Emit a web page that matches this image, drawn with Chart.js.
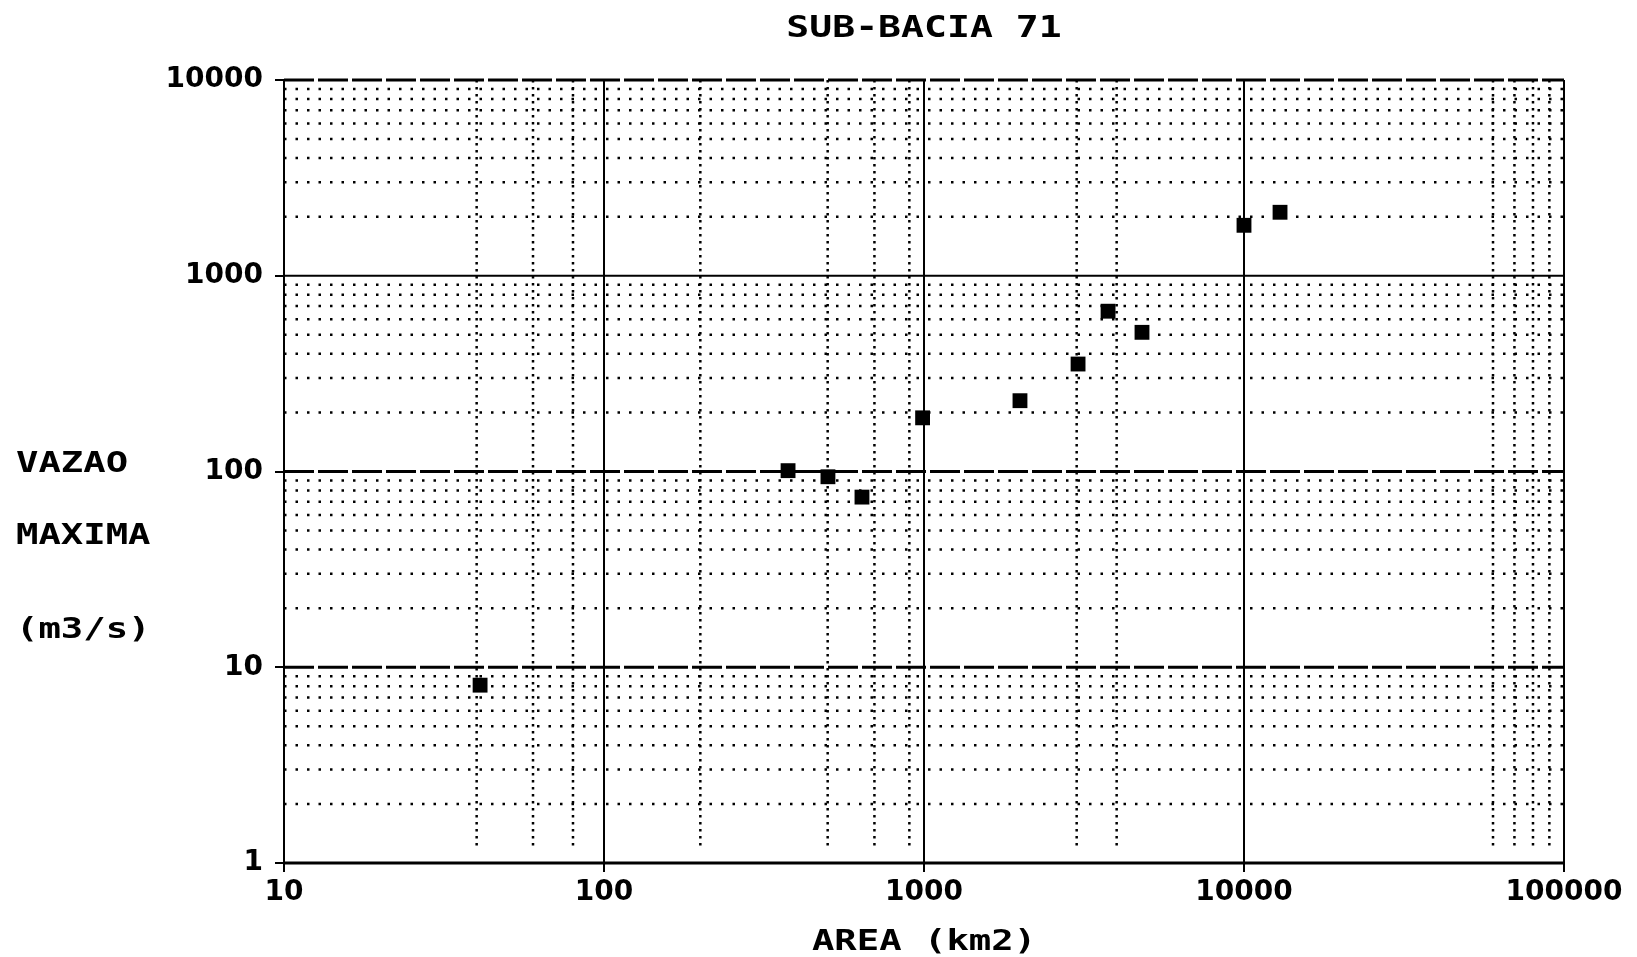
<!DOCTYPE html>
<html>
<head>
<meta charset="utf-8">
<title>SUB-BACIA 71</title>
<script src="https://cdn.jsdelivr.net/npm/chart.js@4.4.1/dist/chart.umd.min.js"></script>
<style>
  html, body { margin: 0; padding: 0; background: #fff; }
  canvas { display: block; }
</style>
</head>
<body>
<canvas id="vazaoChart" width="1637" height="957"></canvas>
<script>
// Data (area km2 vs max flow m3/s)
const areas = [41, 376, 501, 640, 990, 1995, 3030, 3760, 4800, 10000, 12960];
const flows = [8.1, 101, 94, 74, 188, 230, 354, 659, 514, 1810, 2110];

// Axis ticks and grid positions
const xDecades = [10, 100, 1000, 10000, 100000];
const yDecades = [1, 10, 100, 1000, 10000];
const xMinor = [40, 60, 80, 200, 500, 700, 900, 3000, 4000, 60000, 70000, 80000, 90000];
const yMinorSteps = [2, 3, 4, 5, 6, 7, 8, 9];

const chartTitle = "SUB-BACIA 71";
const yTitleLines = ["VAZAO", "MAXIMA", "(m3/s)"];
const xTitle = "AREA (km2)";

const MONO = "'DejaVu Sans Mono', monospace";
const SANS = "'DejaVu Sans', sans-serif";

// stretched text, the old plotter font is wide and heavy
function wideText(ctx, text, x, y, size, stretch, align) {
  ctx.save();
  ctx.font = "bold " + size + "px " + MONO;
  ctx.textBaseline = "middle";
  ctx.textAlign = "left";
  const w = ctx.measureText(text).width * stretch;
  let left = x;
  if (align === "center") left = x - w / 2;
  ctx.translate(left, y);
  ctx.scale(stretch, 1);
  ctx.fillText(text, 0, 0);
  ctx.restore();
}

// Hand drawn style grid: dotted minor lines, heavy decade lines
const paperGrid = {
  id: "paperGrid",
  beforeDatasetsDraw(chart) {
    const { ctx, chartArea: a, scales } = chart;
    const x = scales.x, y = scales.y;
    ctx.save();
    ctx.strokeStyle = "#000";
    ctx.lineCap = "butt";

    const hline = (py) => {
      ctx.beginPath();
      ctx.moveTo(a.left, py);
      ctx.lineTo(a.right, py);
      ctx.stroke();
    };
    const vline = (px, y0, y1) => {
      ctx.beginPath();
      ctx.moveTo(px, y0);
      ctx.lineTo(px, y1);
      ctx.stroke();
    };

    // minor horizontal rows
    ctx.lineWidth = 2.5;
    ctx.setLineDash([2.5, 9]);
    yDecades.slice(0, -1).forEach((d) => {
      yMinorSteps.forEach((s) => hline(y.getPixelForValue(d * s)));
    });

    // minor vertical lines
    ctx.setLineDash([2.5, 4.5]);
    xMinor.forEach((v) => vline(x.getPixelForValue(v), a.top, a.bottom - 14));

    // decade horizontal lines
    yDecades.forEach((v) => {
      if (v === 1000 || v === 1) {
        ctx.setLineDash([]);
        ctx.lineWidth = 2;
      } else {
        ctx.setLineDash([30, 4]);
        ctx.lineWidth = 3;
      }
      hline(y.getPixelForValue(v));
    });

    // decade vertical lines and frame
    ctx.setLineDash([]);
    ctx.lineWidth = 2;
    xDecades.forEach((v) => vline(x.getPixelForValue(v), a.top, a.bottom));
    ctx.lineWidth = 3;
    hline(a.bottom);
    ctx.restore();
  },
  afterDraw(chart) {
    const { ctx, chartArea: a } = chart;
    ctx.save();
    ctx.fillStyle = "#000";
    // title
    wideText(ctx, chartTitle, (a.left + a.right) / 2, 29, 30, 1.27, "center");
    // y axis title, written horizontally at the left
    const rows = [465, 537, 631];
    yTitleLines.forEach((t, i) => wideText(ctx, t, 16, rows[i], 28, 1.33, "left"));
    ctx.restore();
  },
};

const ctx = document.getElementById("vazaoChart").getContext("2d");
const vazaoChart = new Chart(ctx, {
  type: "scatter",
  data: {
    datasets: [
      {
        label: "Vazao maxima",
        data: areas.map((a, i) => ({ x: a, y: flows[i] })),
        pointStyle: "rect",
        pointRadius: 10.5,
        pointHoverRadius: 10.5,
        backgroundColor: "#000",
        borderColor: "#000",
        borderWidth: 0,
      },
    ],
  },
  options: {
    responsive: false,
    animation: false,
    layout: { padding: { top: 80, right: 73, bottom: 0, left: 0 } },
    plugins: {
      legend: { display: false },
      tooltip: { enabled: false },
    },
    scales: {
      x: {
        type: "logarithmic",
        min: 10,
        max: 100000,
        afterBuildTicks: (scale) => {
          scale.ticks = xDecades.map((v) => ({ value: v }));
        },
        afterFit: (scale) => {
          scale.height = 94;
        },
        grid: {
          drawOnChartArea: false,
          color: "#000",
          lineWidth: 2,
          tickLength: 9,
        },
        border: { display: true, color: "#000", width: 2 },
        ticks: {
          color: "#000",
          padding: 7,
          maxRotation: 0,
          autoSkip: false,
          font: { family: SANS, size: 28, weight: "bold", lineHeight: 1 },
          callback: (v) => String(v),
        },
        title: {
          display: true,
          text: "",
          padding: 0,
          font: { size: 28, lineHeight: 1 },
        },
      },
      y: {
        type: "logarithmic",
        min: 1,
        max: 10000,
        afterBuildTicks: (scale) => {
          scale.ticks = yDecades.map((v) => ({ value: v }));
        },
        afterFit: (scale) => {
          scale.width = 284;
        },
        grid: {
          drawOnChartArea: false,
          color: "#000",
          lineWidth: 2,
          tickLength: 9,
        },
        border: { display: true, color: "#000", width: 2 },
        ticks: {
          color: "#000",
          padding: 12,
          autoSkip: false,
          font: { family: SANS, size: 28, weight: "bold", lineHeight: 1 },
          callback: (v) => String(v),
        },
      },
    },
  },
  plugins: [
    paperGrid,
    {
      // x axis title, stretched like the other labels, centred under the x scale
      id: "xTitle",
      afterDraw(chart) {
        const x = chart.scales.x;
        chart.ctx.save();
        chart.ctx.fillStyle = "#000";
        wideText(chart.ctx, xTitle, (x.left + x.right) / 2, 943, 28, 1.33, "center");
        chart.ctx.restore();
      },
    },
  ],
});
</script>
</body>
</html>
